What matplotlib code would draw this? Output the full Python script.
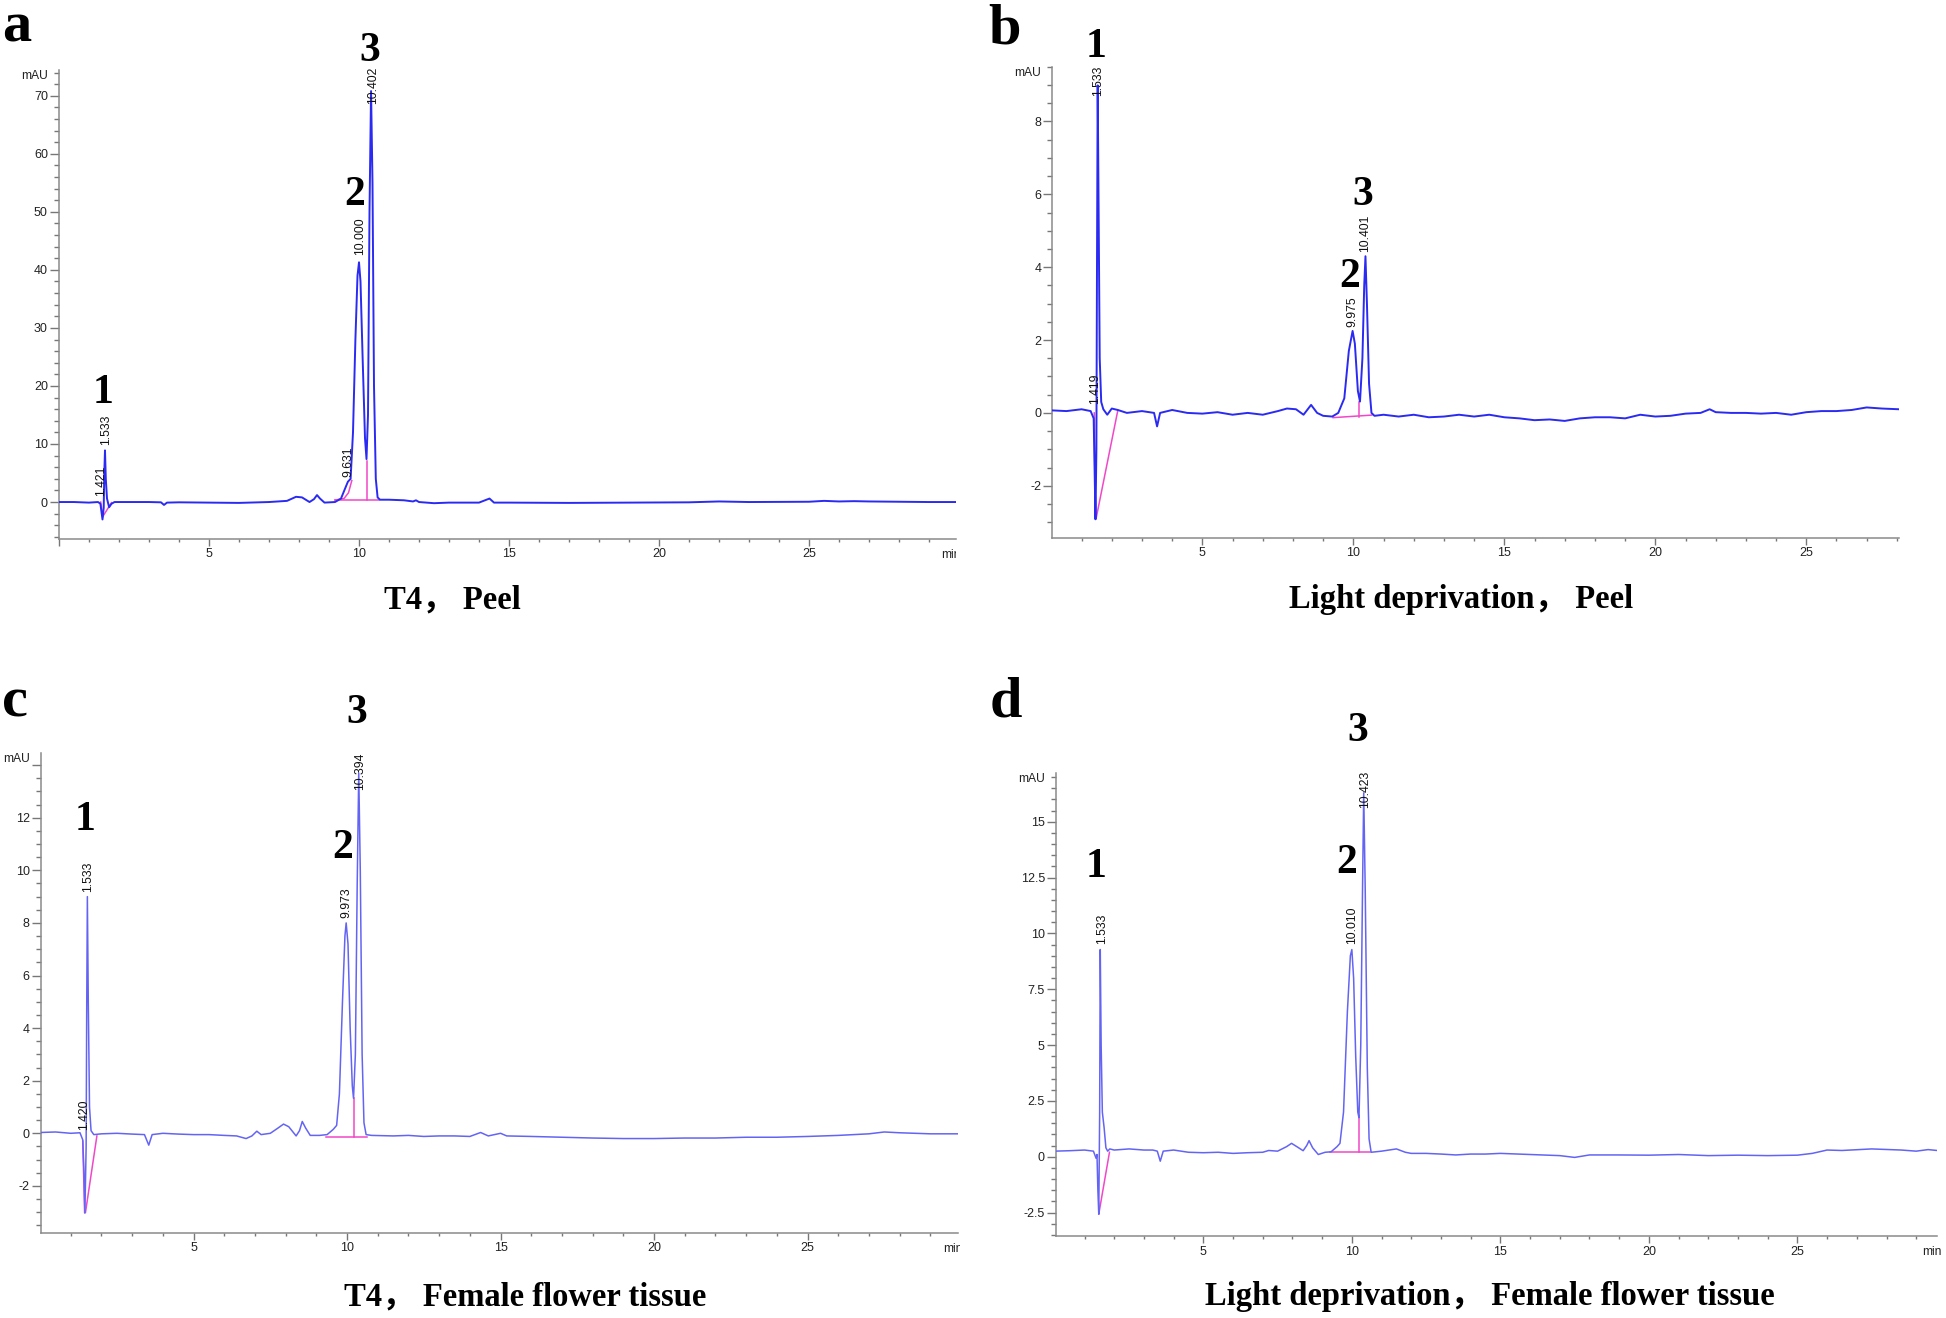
import matplotlib
matplotlib.use("Agg")
import matplotlib.pyplot as plt
from matplotlib.ticker import MultipleLocator
from matplotlib.transforms import Bbox, TransformedBbox

# ---------------- data ----------------
# a: T4, peel
a_time = [0, 0.5, 1.0, 1.3, 1.38, 1.45, 1.49, 1.51, 1.533, 1.56, 1.60, 1.67, 1.75, 1.85,
          2.2, 3.0, 3.4, 3.5, 3.6, 4.0, 5.0, 6.0, 7.0, 7.6, 7.9, 8.1, 8.35, 8.5, 8.6,
          8.7, 8.85, 9.2, 9.4, 9.55, 9.63, 9.72, 9.8, 9.88, 9.95, 10.0, 10.05, 10.12,
          10.2, 10.25, 10.3, 10.35, 10.402, 10.45, 10.5, 10.56, 10.62, 10.7, 11.0, 11.5,
          11.8, 11.9, 12.0, 12.5, 13.0, 14.0, 14.35, 14.5, 15.0, 17.0, 19.0, 21.0, 22.0,
          23.0, 25.0, 25.5, 26.0, 26.5, 27.0, 28.0, 29.0, 29.9]
a_signal = [0.0, 0.0, -0.1, 0.0, -0.3, -3.0, -1.0, 5.0, 8.9, 4.0, 0.6, -0.9, -0.3, 0.0,
            0.0, 0.0, -0.05, -0.5, -0.1, -0.05, -0.1, -0.15, 0.0, 0.2, 0.9, 0.8, 0.0, 0.5,
            1.2, 0.6, -0.1, 0.0, 0.6, 2.5, 3.5, 4.0, 12.0, 28.0, 39.0, 41.3, 38.0, 25.0,
            11.0, 7.4, 15.0, 50.0, 70.8, 55.0, 20.0, 4.0, 0.8, 0.4, 0.4, 0.3,
            0.1, 0.3, 0.0, -0.2, -0.1, -0.1, 0.6, -0.1, -0.1, -0.15, -0.1, -0.05, 0.1,
            0.0, 0.05, 0.2, 0.1, 0.15, 0.1, 0.05, 0.0, 0.0]
a_base_t = [[1.39, 1.46], [1.46, 1.75], [9.2, 10.65], [10.25, 10.25], [9.2, 9.5, 9.65, 9.76]]
a_base_y = [[0.0, -2.5], [-2.5, -0.1], [0.35, 0.35], [0.35, 7.1], [0.35, 0.6, 1.6, 3.7]]
a_rt_labels = ["1.421", "1.533", "9.631", "10.000", "10.402"]
a_rt_time = [1.42, 1.57, 9.64, 10.03, 10.46]
a_rt_level = [1.05, 9.8, 4.3, 42.6, 68.6]
a_peak_ids = ["1", "2", "3"]
a_peak_time = [1.47, 9.87, 10.37]
a_peak_level = [17.0, 51.2, 76.0]

# b: light deprivation, peel
b_time = [0, 0.5, 1.0, 1.3, 1.40, 1.43, 1.46, 1.49, 1.51, 1.533, 1.56, 1.60, 1.65, 1.72,
          1.85, 2.0, 2.2, 2.5, 3.0, 3.4, 3.5, 3.6, 4.0, 4.5, 5.0, 5.5, 6.0, 6.5, 7.0, 7.5,
          7.8, 8.1, 8.35, 8.6, 8.8, 9.0, 9.3, 9.5, 9.7, 9.85, 9.975, 10.05, 10.15, 10.22,
          10.3, 10.36, 10.401, 10.45, 10.52, 10.6, 10.7, 11.0, 11.5, 12.0, 12.5, 13.0,
          13.5, 14.0, 14.5, 15.0, 15.5, 16.0, 16.5, 17.0, 17.5, 18.0, 18.5, 19.0, 19.5,
          20.0, 20.5, 21.0, 21.5, 21.8, 22.0, 22.5, 23.0, 23.5, 24.0, 24.5, 25.0, 25.5,
          26.0, 26.5, 27.0, 27.5, 28.07]
b_signal = [0.07, 0.05, 0.1, 0.05, -0.15, -1.5, -2.92, -1.0, 4.0, 8.99, 6.0, 1.5, 0.3,
            0.1, -0.05, 0.12, 0.08, 0.0, 0.05, 0.0, -0.37, 0.0, 0.08, 0.0, -0.02, 0.02,
            -0.05, 0.0, -0.05, 0.05, 0.12, 0.1, -0.05, 0.22, 0.0, -0.08, -0.1, 0.0, 0.4,
            1.7, 2.25, 1.9, 0.6, 0.31, 1.5, 3.5, 4.3, 3.0, 0.8, 0.0, -0.08, -0.05, -0.1,
            -0.05, -0.12, -0.1, -0.05, -0.1, -0.05, -0.12, -0.15, -0.2, -0.18, -0.22,
            -0.15, -0.12, -0.12, -0.15, -0.05, -0.1, -0.08, -0.02, 0.0, 0.1, 0.02, 0.0,
            0.0, -0.02, 0.0, -0.05, 0.02, 0.05, 0.05, 0.08, 0.15, 0.12, 0.1]
b_base_t = [[1.42, 1.45], [1.48, 2.2], [9.33, 10.61], [10.19, 10.19]]
b_base_y = [[0.0, -2.9], [-2.9, 0.07], [-0.13, -0.06], [-0.1, 0.31]]
b_rt_labels = ["1.419", "1.533", "9.975", "10.401"]
b_rt_time = [1.45, 1.55, 9.96, 10.39]
b_rt_level = [0.25, 8.7, 2.37, 4.42]
b_peak_ids = ["1", "2", "3"]
b_peak_time = [1.48, 9.87, 10.32]
b_peak_level = [9.78, 3.45, 5.71]

# c: T4, female flower tissue
c_time = [0, 0.5, 1.0, 1.3, 1.39, 1.43, 1.46, 1.50, 1.52, 1.54, 1.57, 1.61, 1.66, 1.75,
          2.0, 2.5, 3.0, 3.4, 3.54, 3.65, 4.0, 4.5, 5.0, 5.5, 6.0, 6.4, 6.71, 6.9, 7.06,
          7.2, 7.5, 7.75, 7.93, 8.1, 8.34, 8.45, 8.54, 8.65, 8.8, 9.1, 9.35, 9.55, 9.66,
          9.75, 9.85, 9.93, 9.97, 10.03, 10.1, 10.17, 10.21, 10.27, 10.33, 10.38, 10.43,
          10.49, 10.55, 10.62, 10.8, 11.5, 12.0, 12.5, 13.0, 13.5, 14.0, 14.35, 14.6,
          15.0, 15.2, 16.0, 17.0, 18.0, 19.0, 20.0, 21.0, 22.0, 23.0, 24.0, 25.0, 26.0,
          27.0, 27.5, 28.0, 29.0, 29.9]
c_signal = [0.03, 0.05, 0.0, 0.02, -0.25, -1.5, -3.04, -0.5, 5.0, 9.0, 5.0, 1.0, 0.1,
            -0.05, -0.02, 0.0, -0.03, -0.05, -0.45, -0.05, 0.0, -0.03, -0.05, -0.05,
            -0.08, -0.1, -0.2, -0.1, 0.08, -0.05, 0.0, 0.2, 0.35, 0.25, -0.1, 0.1, 0.45,
            0.2, -0.08, -0.08, -0.05, 0.15, 0.3, 1.5, 5.0, 7.5, 8.0, 7.2, 4.0, 1.8, 1.33,
            3.0, 9.5, 13.7, 10.0, 3.0, 0.4, -0.05, -0.08, -0.1, -0.08, -0.12, -0.1, -0.1,
            -0.12, 0.03, -0.1, 0.0, -0.1, -0.12, -0.15, -0.18, -0.2, -0.2, -0.18, -0.18,
            -0.15, -0.15, -0.12, -0.08, -0.02, 0.05, 0.02, -0.02, -0.02]
c_base_t = [[1.39, 1.45], [1.48, 1.85], [9.32, 10.64], [10.21, 10.21]]
c_base_y = [[-0.3, -3.0], [-3.0, -0.1], [-0.13, -0.13], [-0.13, 1.33]]
c_rt_labels = ["1.420", "1.533", "9.973", "10.394"]
c_rt_time = [1.44, 1.57, 9.99, 10.42]
c_rt_level = [0.13, 9.19, 8.17, 13.05]
c_peak_ids = ["1", "2", "3"]
c_peak_time = [1.47, 9.86, 10.32]
c_peak_level = [11.53, 10.46, 15.61]

# d: light deprivation, female flower tissue
d_time = [0, 0.5, 1.0, 1.3, 1.39, 1.42, 1.45, 1.48, 1.51, 1.53, 1.56, 1.6, 1.66, 1.72,
          1.78, 1.85, 2.0, 2.5, 3.0, 3.3, 3.45, 3.55, 3.65, 4.0, 4.5, 5.0, 5.5, 6.0, 6.5,
          7.0, 7.2, 7.5, 7.8, 7.97, 8.15, 8.36, 8.48, 8.56, 8.68, 8.87, 9.1, 9.3, 9.5,
          9.6, 9.72, 9.85, 9.95, 10.0, 10.06, 10.13, 10.2, 10.24, 10.3, 10.36, 10.4,
          10.45, 10.52, 10.58, 10.65, 11.0, 11.5, 11.8, 12.0, 12.5, 13.0, 13.5, 14.0,
          14.5, 15.0, 16.0, 17.0, 17.5, 18.0, 19.0, 20.0, 21.0, 22.0, 23.0, 24.0, 25.0,
          25.5, 26.0, 26.5, 27.5, 28.5, 29.0, 29.4, 29.7]
d_signal = [0.25, 0.27, 0.3, 0.25, -0.07, 0.1, -1.5, -2.57, 2.0, 9.28, 5.0, 2.0, 1.3,
            0.4, 0.25, 0.35, 0.3, 0.35, 0.3, 0.3, 0.25, -0.2, 0.25, 0.3, 0.2, 0.18, 0.2,
            0.15, 0.18, 0.2, 0.28, 0.25, 0.45, 0.6, 0.45, 0.27, 0.5, 0.72, 0.4, 0.1, 0.2,
            0.22, 0.45, 0.6, 2.0, 6.5, 9.0, 9.28, 8.0, 4.5, 2.0, 1.75, 5.0, 12.0, 16.3,
            12.0, 4.0, 0.8, 0.2, 0.25, 0.35, 0.2, 0.15, 0.15, 0.12, 0.08, 0.12, 0.12,
            0.15, 0.1, 0.05, -0.03, 0.08, 0.08, 0.07, 0.1, 0.05, 0.07, 0.05, 0.07, 0.15,
            0.3, 0.28, 0.35, 0.3, 0.25, 0.32, 0.28]
d_base_t = [[1.48, 1.84], [9.27, 10.62], [10.24, 10.24]]
d_base_y = [[-2.57, 0.2], [0.2, 0.2], [0.2, 1.75]]
d_rt_labels = ["1.533", "10.010", "10.423"]
d_rt_time = [1.58, 10.02, 10.43]
d_rt_level = [9.55, 9.55, 15.6]
d_peak_ids = ["1", "2", "3"]
d_peak_time = [1.39, 9.83, 10.2]
d_peak_level = [12.54, 12.69, 18.62]

panel_letters = ["a", "b", "c", "d"]
captions = ["T4， Peel", "Light deprivation， Peel",
            "T4， Female flower tissue", "Light deprivation， Female flower tissue"]

# ---------------- layout (figure pixels, y from top) ----------------
W, H = 1946, 1318
SERIF = ["Liberation Serif", "Noto Sans CJK SC"]
plt.rcParams["font.family"] = ["Liberation Sans", "DejaVu Sans"]

fig = plt.figure(figsize=(W / 100, H / 100), dpi=100)


def add_px_axes(left, top, right, bottom):
    return fig.add_axes([left / W, 1 - bottom / H, (right - left) / W, (bottom - top) / H])


def draw_panel(box, xlim, ylim, ymajor, yminor, ylab_max, t, y, base_t, base_y,
               rt_labels, rt_t, rt_y, ids, id_t, id_y, color, lw, min_clip):
    ax = add_px_axes(*box)
    ax.plot(t, y, color=color, lw=lw, solid_joinstyle="round", zorder=3)
    for bt, by in zip(base_t, base_y):
        ax.plot(bt, by, color="#f048c8", lw=1.1, zorder=2)
    for lab, lt, ly in zip(rt_labels, rt_t, rt_y):
        ax.text(lt, ly, lab, rotation=90, ha="center", va="bottom",
                fontsize=8.7, color="#111111", zorder=4)
    for lab, lt, ly in zip(ids, id_t, id_y):
        ax.text(lt, ly, lab, ha="center", va="baseline", fontsize=30,
                fontweight="bold", family=SERIF, clip_on=False)
    ax.set_xlim(*xlim)
    ax.set_ylim(*ylim)
    for s in ("top", "right"):
        ax.spines[s].set_visible(False)
    for s in ("left", "bottom"):
        ax.spines[s].set_color("#8a8a8a")
        ax.spines[s].set_linewidth(1.1)
    ax.xaxis.set_major_locator(MultipleLocator(5))
    ax.xaxis.set_minor_locator(MultipleLocator(1))
    ax.yaxis.set_major_locator(MultipleLocator(ymajor))
    ax.yaxis.set_minor_locator(MultipleLocator(yminor))
    ax.tick_params(axis="x", which="major", length=5, width=1, color="#777777",
                   labelsize=9, labelcolor="#222222", pad=2)
    ax.tick_params(axis="x", which="minor", length=2.5, width=1, color="#777777")
    ax.tick_params(axis="y", which="major", length=6.5, width=1, color="#777777",
                   labelsize=9, labelcolor="#222222", pad=1.5)
    ax.tick_params(axis="y", which="minor", length=3.5, width=1, color="#777777")
    ax.xaxis.set_major_formatter(plt.FuncFormatter(
        lambda v, p: "" if v <= 0 or v > xlim[1] - 1 else f"{v:g}"))
    ax.yaxis.set_major_formatter(plt.FuncFormatter(
        lambda v, p: "" if v > ylab_max else f"{v:g}"))
    ax.annotate("mAU", xy=(0, 1), xycoords="axes fraction", xytext=(-11, -6),
                textcoords="offset pixels", ha="right", va="center", fontsize=8.7,
                color="#222222")
    if min_clip is not None:
        txt = ax.annotate("min", xy=(1, 0), xycoords="axes fraction", xytext=(-15, -16),
                          textcoords="offset pixels", ha="left", va="center",
                          fontsize=8.7, color="#222222", annotation_clip=False)
        clip = TransformedBbox(Bbox([[0, 0], [min_clip / W, 1]]), fig.transFigure)
        txt.set_clip_box(clip)
        txt.set_clip_on(True)
    return ax


draw_panel((59, 69.6, 955.7, 538.6), (0, 29.89), (-6.3, 74.5), 10, 2, 70,
           a_time, a_signal, a_base_t, a_base_y, a_rt_labels, a_rt_time, a_rt_level,
           a_peak_ids, a_peak_time, a_peak_level, "#2a2af2", 1.4, 956)
draw_panel((1052.3, 66.8, 1899, 537.5), (0.03, 28.07), (-3.42, 9.5), 2, 0.5, 8,
           b_time, b_signal, b_base_t, b_base_y, b_rt_labels, b_rt_time, b_rt_level,
           b_peak_ids, b_peak_time, b_peak_level, "#2a2af2", 1.4, None)
draw_panel((40.7, 753.3, 958, 1232.7), (0.02, 29.9), (-3.78, 14.45), 2, 0.5, 12,
           c_time, c_signal, c_base_t, c_base_y, c_rt_labels, c_rt_time, c_rt_level,
           c_peak_ids, c_peak_time, c_peak_level, "#6464f4", 1.1, 960)
draw_panel((1056, 772.7, 1937, 1236), (0.04, 29.7), (-3.55, 17.2), 2.5, 0.5, 15,
           d_time, d_signal, d_base_t, d_base_y, d_rt_labels, d_rt_time, d_rt_level,
           d_peak_ids, d_peak_time, d_peak_level, "#6464f4", 1.1, W)

# panel letters and captions
letter_pos = [(2, 41), (988, 43), (2, 717), (990, 717)]
caption_pos = [(452, 600), (1461, 600), (525, 1297), (1490, 1297)]
for lab, (lx, ly) in zip(panel_letters, letter_pos):
    fig.text(lx / W, 1 - ly / H, lab, ha="left", va="baseline", fontsize=42,
             fontweight="bold", family=SERIF)
for cap, (cx, cy) in zip(captions, caption_pos):
    fig.text(cx / W, 1 - cy / H, cap, ha="center", va="center", fontsize=23.5,
             fontweight="bold", family=SERIF)

fig.savefig("out.png", dpi=100, facecolor="white")
